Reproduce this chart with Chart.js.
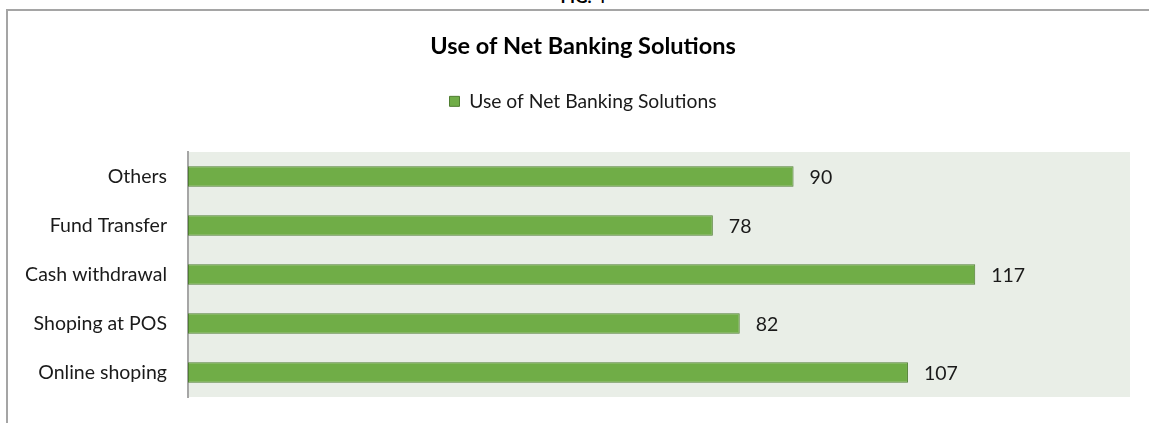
<!DOCTYPE html>
<html>
<head>
<meta charset="utf-8">
<script src="https://cdn.jsdelivr.net/npm/chart.js@4.4.1/dist/chart.umd.min.js"></script>
<style>
  html, body { margin: 0; padding: 0; background: #fff; overflow: hidden; }
  body { width: 1149px; height: 423px; position: relative; }
  #fig { position: absolute; left: 0; width: 1166px; top: -12px; text-align: center;
         font: bold 17px Lato, sans-serif; line-height: 17px; color: #000; }
  #frame { position: absolute; left: 6px; top: 9px; width: 1300px; height: 600px;
           border-left: 2px solid #a5a5a5; border-top: 2px solid #a5a5a5; }
  #wrap { position: absolute; left: 8px; top: 0; width: 1150px; height: 423px; }
</style>
</head>
<body>
<div id="fig">FIG. 4</div>
<div id="frame"></div>
<div id="wrap"><canvas id="canvas"></canvas></div>
<script>
var categories = ["Others", "Fund Transfer", "Cash withdrawal", "Shoping at POS", "Online shoping"];
var values = [90, 78, 117, 82, 107];
var seriesName = "Use of Net Banking Solutions";
var chartTitle = "Use of Net Banking Solutions";

var fontName = "Lato, 'Liberation Sans', sans-serif";

/* plot area background */
var plotBackground = {
    id: 'plotBackground',
    beforeDraw: function (chart) {
        var a = chart.chartArea;
        var c = chart.ctx;
        c.save();
        c.fillStyle = "#e9eee7";
        c.fillRect(a.left, a.top, a.right - a.left, a.bottom - a.top);
        c.restore();
    }
};

/* some extra room under the legend */
var legendSpacing = {
    id: 'legendSpacing',
    beforeInit: function (chart) {
        var fit = chart.legend.fit;
        chart.legend.fit = function () {
            fit.call(this);
            this.height += 31;
        };
    },
    afterLayout: function (chart) {
        // center title and legend on the whole canvas, not only left of the right padding
        chart.titleBlock.right = chart.width;
        chart.legend.right = chart.width;
    }
};

/* value labels at the end of bars */
var valueLabels = {
    id: 'valueLabels',
    afterDatasetsDraw: function (chart) {
        var c = chart.ctx;
        var meta = chart.getDatasetMeta(0);
        c.save();
        c.font = "19.5px " + fontName;
        c.fillStyle = "#1a1a1a";
        c.textBaseline = "middle";
        c.textAlign = "left";
        for (var i = 0; i < meta.data.length; i++) {
            var bar = meta.data[i];
            c.fillText(chart.data.datasets[0].data[i], bar.x + 16, bar.y + 1);
        }
        c.restore();
    }
};

var ctx = document.getElementById("canvas").getContext("2d");

var chart = new Chart(ctx, {
    type: 'bar',
    data: {
        labels: categories,
        datasets: [
            {
                label: seriesName,
                data: values,
                backgroundColor: "#70ad47",
                borderColor: "#507e32",
                borderWidth: 1,
                borderSkipped: false,
                barPercentage: 0.42,
                categoryPercentage: 1
            }]
    },
    options: {
        indexAxis: 'y',
        responsive: true,
        maintainAspectRatio: false,
        animation: false,
        layout: { padding: { left: 0, right: 28, top: 0, bottom: 26 } },
        plugins: {
            title: {
                display: true,
                text: chartTitle,
                color: "#000",
                font: { family: fontName, size: 23.5, weight: 'bold' },
                padding: { top: 32, bottom: 0 }
            },
            legend: {
                display: true,
                labels: {
                    color: "#1a1a1a",
                    font: { family: fontName, size: 19.3 },
                    boxWidth: 10,
                    boxHeight: 10,
                    padding: 31.5
                }
            },
            tooltip: { enabled: false }
        },
        scales: {
            x: {
                display: false,
                min: 0,
                max: 140
            },
            y: {
                grid: { display: false, drawTicks: false },
                border: { display: true, color: "#a6a6a6", width: 2 },
                ticks: {
                    color: "#1a1a1a",
                    font: { family: fontName, size: 19.5 },
                    padding: 21
                },
                afterFit: function (scale) {
                    scale.width = 180;
                    scale.paddingTop = 0;
                    scale.paddingBottom = 0;
                }
            }
        }
    },
    plugins: [plotBackground, legendSpacing, valueLabels]
});
</script>
</body>
</html>
